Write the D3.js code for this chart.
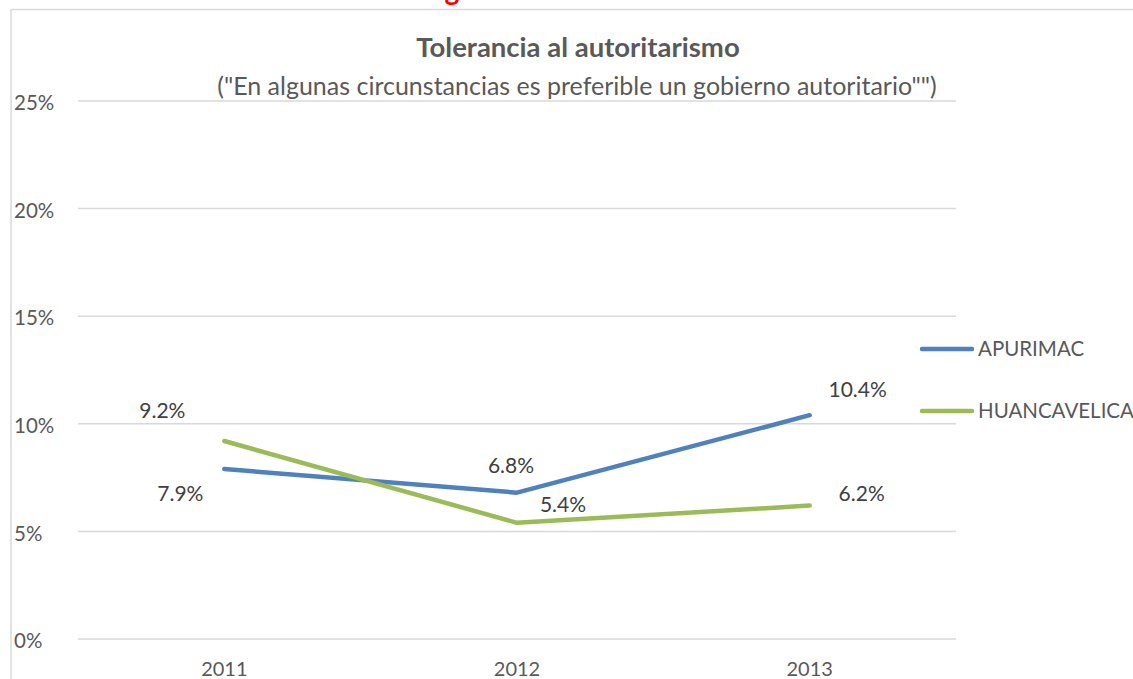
<!DOCTYPE html>
<html>
<head>
<meta charset="utf-8">
<script src="https://cdn.jsdelivr.net/npm/d3@7"></script>
<style>
  body { margin: 0; background: #fff; }
  svg { display: block; font-family: Lato, "Open Sans", sans-serif; }
</style>
</head>
<body>
<svg id="chart" width="1133" height="679"></svg>
<script>
// data
var years = ["2011", "2012", "2013"];
var apurimac = [7.9, 6.8, 10.4];
var huancavelica = [9.2, 5.4, 6.2];
var yTicks = [0, 5, 10, 15, 20, 25];
var seriesNames = ["APURIMAC", "HUANCAVELICA"];
var seriesColors = ["#4f81bd", "#9bbb59"];
// label offsets (dx, dy) relative to each point
var labelPos = [
  [[-44, 25], [-6, -27], [48, -26]],
  [[-62, -30], [46, -18], [52, -12]]
];

var svg = d3.select("#chart");

// clipped red heading above the chart frame
svg.append("text")
  .attr("x", 284).attr("y", 0.3)
  .attr("textLength", 597).attr("lengthAdjust", "spacingAndGlyphs")
  .style("font-size", "28px").style("font-weight", "bold")
  .style("fill", "#ff0000")
  .text("Gráfico 6: Regiones - Tolerancia al autoritarismo");

// chart frame (top and left edges visible)
svg.append("path")
  .attr("d", "M11,679V9.5H1133")
  .attr("fill", "none").attr("stroke", "#d9d9d9").attr("stroke-width", 1.5);

var margin = {top: 101, left: 78, right: 177, bottom: 40};
var width = 1133 - margin.left - margin.right,
    height = 639 - margin.top;

var g = svg.append("g")
  .attr("transform", "translate(" + margin.left + "," + margin.top + ")");

var x = d3.scalePoint().domain(years).range([0, width]).padding(0.5);
var y = d3.scaleLinear().domain([0, 25]).range([height, 0]);

// gridlines
g.selectAll(".grid")
  .data(yTicks)
  .enter().append("line")
  .attr("x1", 0).attr("x2", width)
  .attr("y1", function(d) { return y(d); })
  .attr("y2", function(d) { return y(d); })
  .attr("stroke", "#d9d9d9").attr("stroke-width", 1.5);

// y axis labels
g.selectAll(".ylab")
  .data(yTicks)
  .enter().append("text")
  .attr("x", -64).attr("y", function(d) { return y(d) + 2; })
  .attr("dy", "0.35em")
  .style("font-size", "20.5px").style("fill", "#595959")
  .text(function(d) { return d + "%"; });

// x axis labels
g.selectAll(".xlab")
  .data(years)
  .enter().append("text")
  .attr("x", function(d) { return x(d); })
  .attr("y", height + 30)
  .attr("dy", "0.35em")
  .attr("text-anchor", "middle")
  .style("font-size", "20px").style("fill", "#595959")
  .text(function(d) { return d; });

// title
svg.append("text")
  .attr("x", 578).attr("y", 57)
  .attr("text-anchor", "middle")
  .style("font-size", "27.5px").style("font-weight", "bold").style("fill", "#595959")
  .text("Tolerancia al autoritarismo");
svg.append("text")
  .attr("x", 577).attr("y", 95)
  .attr("text-anchor", "middle")
  .style("font-size", "25px").style("fill", "#595959")
  .text("(\"En algunas circunstancias es preferible un gobierno autoritario\"\")");

var allSeries = [apurimac, huancavelica];
var line = d3.line()
  .x(function(d, i) { return x(years[i]); })
  .y(function(d) { return y(d); });

allSeries.forEach(function(vals, s) {
  g.append("path")
    .datum(vals)
    .attr("d", line)
    .attr("fill", "none")
    .attr("stroke", seriesColors[s])
    .attr("stroke-width", 4.5)
    .attr("stroke-linecap", "round")
    .attr("stroke-linejoin", "round");

  g.selectAll(".lab" + s)
    .data(vals)
    .enter().append("text")
    .attr("x", function(d, i) { return x(years[i]) + labelPos[s][i][0]; })
    .attr("y", function(d, i) { return y(d) + labelPos[s][i][1]; })
    .attr("dy", "0.35em")
    .attr("text-anchor", "middle")
    .style("font-size", "21px").style("fill", "#404040")
    .text(function(d) { return d.toFixed(1) + "%"; });
});

// legend
var legend = svg.selectAll(".legend")
  .data(seriesNames)
  .enter().append("g")
  .attr("transform", function(d, i) { return "translate(920," + (349 + i * 62) + ")"; });
legend.append("line")
  .attr("x1", 2).attr("x2", 52)
  .attr("stroke", function(d, i) { return seriesColors[i]; })
  .attr("stroke-width", 4.5).attr("stroke-linecap", "round");
legend.append("text")
  .attr("x", 58).attr("dy", "0.35em")
  .style("font-size", "20.5px").style("fill", "#595959")
  .text(function(d) { return d; });
</script>
</body>
</html>
